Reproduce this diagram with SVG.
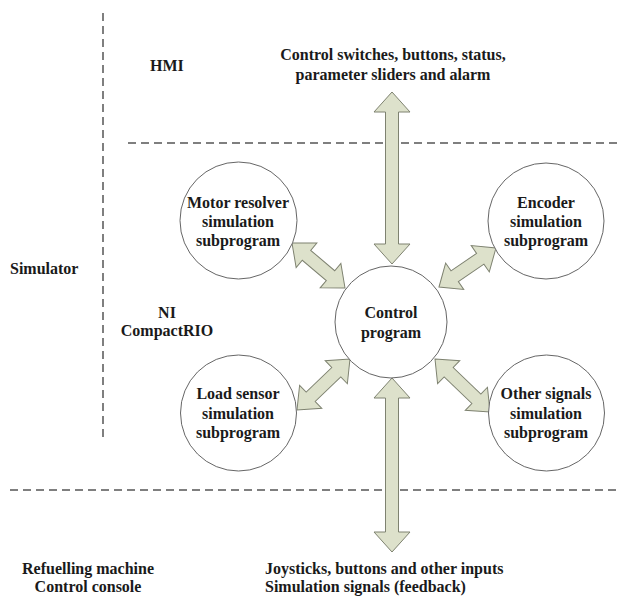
<svg xmlns="http://www.w3.org/2000/svg" width="619" height="596" viewBox="0 0 619 596">
<defs>
<style>
text{font-family:"Liberation Serif","Times New Roman",serif;font-weight:bold;font-size:16px;fill:#1a1a1a}
.c{text-anchor:middle}
.node circle{fill:#fff;stroke:#666;stroke-width:1}
.dash{stroke:#555;stroke-width:1.5;stroke-dasharray:8 5;fill:none}
.arr{fill:#dde1cb;stroke:#7e8270;stroke-width:1;stroke-linejoin:miter}
</style>
</defs>
<rect width="619" height="596" fill="#fff"/>
<g id="boundaries">
<line class="dash" x1="103" y1="13" x2="103" y2="440"/>
<line class="dash" x1="128" y1="143" x2="619" y2="143"/>
<line class="dash" x1="10" y1="490" x2="619" y2="490"/>
</g>
<g id="region-labels">
<text x="150" y="71">HMI</text>
<text x="10" y="274">Simulator</text>
<text class="c" x="167" y="318">NI</text>
<text class="c" x="167" y="336">CompactRIO</text>
<text class="c" x="393" y="60">Control switches, buttons, status,</text>
<text class="c" x="393" y="80">parameter sliders and alarm</text>
<text class="c" x="88" y="574">Refuelling machine</text>
<text class="c" x="88" y="592">Control console</text>
<text x="265" y="574">Joysticks, buttons and other inputs</text>
<text x="265" y="592">Simulation signals (feedback)</text>
</g>
<g id="connectors">
<polygon class="arr" transform="translate(392,92) rotate(90)" points="0,0 20,-18 20,-6.5 152,-6.5 152,-18 172,0 152,18 152,6.5 20,6.5 20,18"/>
<polygon class="arr" transform="translate(392,378) rotate(90)" points="0,0 20,-18 20,-6.5 154,-6.5 154,-18 174,0 154,18 154,6.5 20,6.5 20,18"/>
<polygon class="arr" transform="translate(292,243) rotate(40.3)" points="0,0 19,-16 19,-6.5 50.5,-6.5 50.5,-16 69.5,0 50.5,16 50.5,6.5 19,6.5 19,16"/>
<polygon class="arr" transform="translate(439,287) rotate(-34.4)" points="0,0 19,-16 19,-6.5 50,-6.5 50,-16 69,0 50,16 50,6.5 19,6.5 19,16"/>
<polygon class="arr" transform="translate(297,410) rotate(-43.9)" points="0,0 19,-16 19,-6.5 54.5,-6.5 54.5,-16 73.5,0 54.5,16 54.5,6.5 19,6.5 19,16"/>
<polygon class="arr" transform="translate(435,359) rotate(43.9)" points="0,0 19,-16 19,-6.5 57.4,-6.5 57.4,-16 76.4,0 57.4,16 57.4,6.5 19,6.5 19,16"/>
</g>
<g id="control" class="node">
<circle cx="391" cy="322" r="56"/>
<text class="c" x="391" y="318">Control</text>
<text class="c" x="391" y="338">program</text>
</g>
<g id="motor" class="node">
<circle cx="238.5" cy="220.5" r="58.5"/>
<text class="c" x="238" y="208">Motor resolver</text>
<text class="c" x="238" y="227">simulation</text>
<text class="c" x="238" y="246">subprogram</text>
</g>
<g id="encoder" class="node">
<circle cx="546" cy="221" r="58"/>
<text class="c" x="546" y="208">Encoder</text>
<text class="c" x="546" y="227">simulation</text>
<text class="c" x="546" y="246">subprogram</text>
</g>
<g id="load" class="node">
<circle cx="238.5" cy="413" r="58"/>
<text class="c" x="238" y="399">Load sensor</text>
<text class="c" x="238" y="419">simulation</text>
<text class="c" x="238" y="438">subprogram</text>
</g>
<g id="other" class="node">
<circle cx="546.5" cy="413" r="58"/>
<text class="c" x="546" y="399">Other signals</text>
<text class="c" x="546" y="419">simulation</text>
<text class="c" x="546" y="438">subprogram</text>
</g>
</svg>
